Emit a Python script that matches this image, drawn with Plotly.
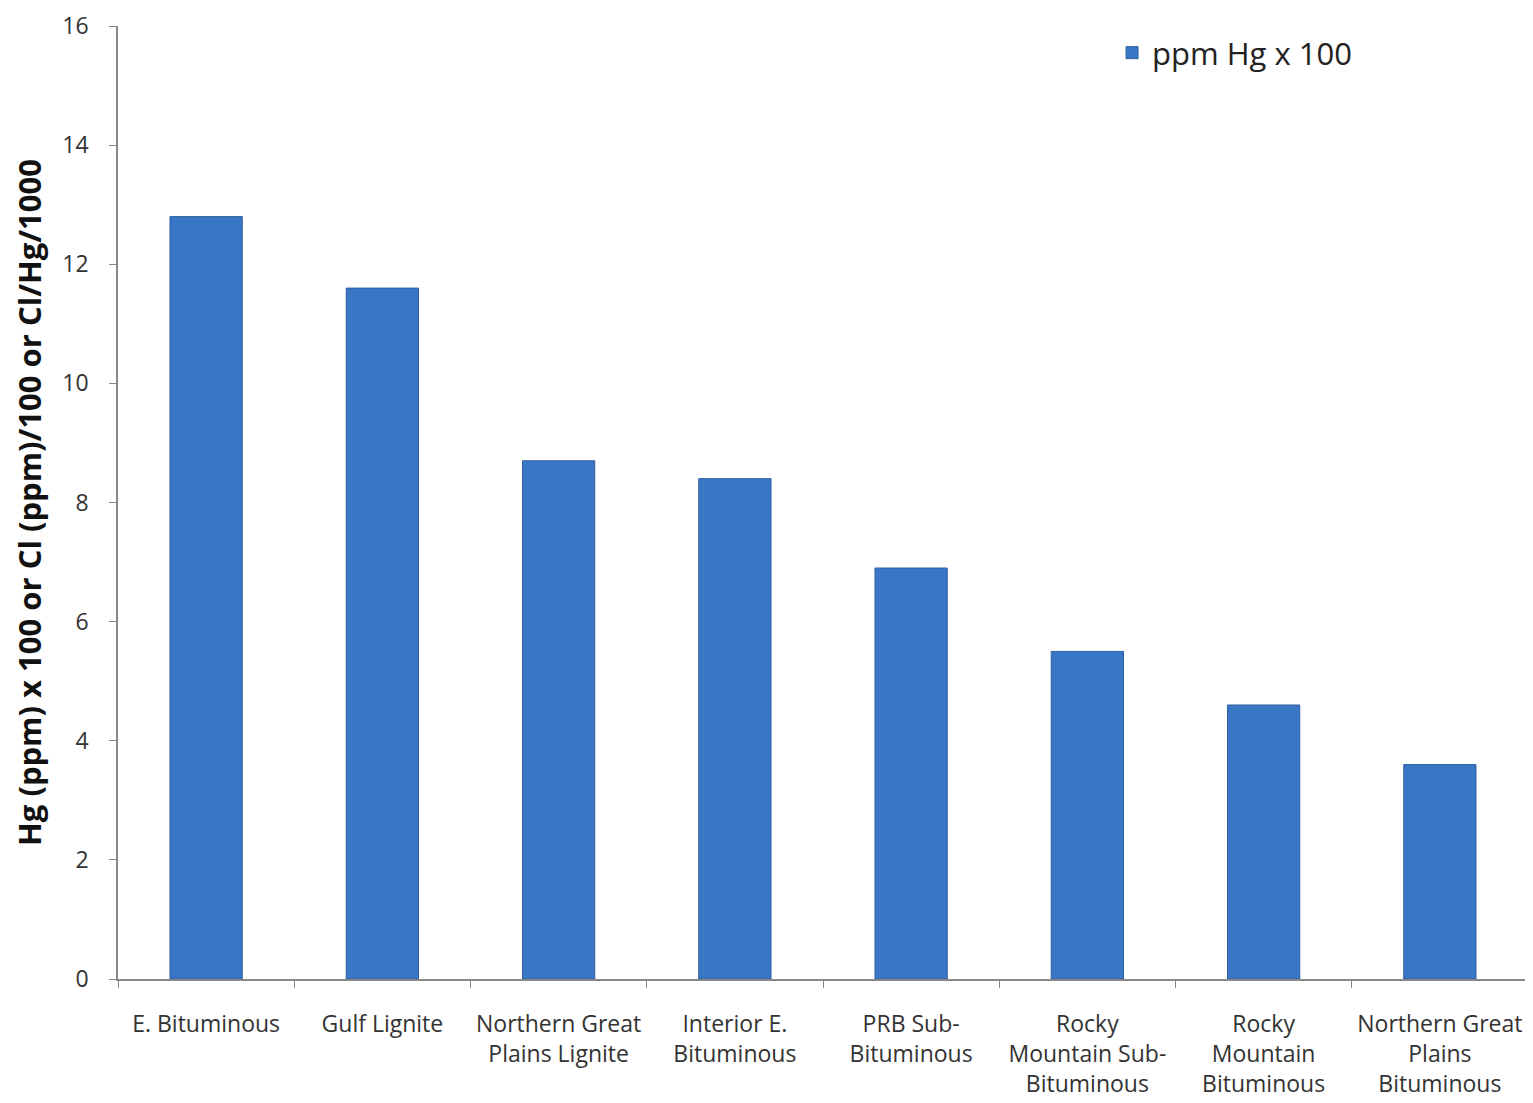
import plotly.graph_objects as go

categories = ["E. Bituminous", "Gulf Lignite", "Northern Great<br>Plains Lignite", "Interior E.<br>Bituminous",
              "PRB Sub-<br>Bituminous", "Rocky<br>Mountain Sub-<br>Bituminous", "Rocky<br>Mountain<br>Bituminous",
              "Northern Great<br>Plains<br>Bituminous"]
hg_ppm_x100 = [12.8, 11.6, 8.7, 8.4, 6.9, 5.5, 4.6, 3.6]
series_name = "ppm Hg x 100"
y_ticks = [0, 2, 4, 6, 8, 10, 12, 14, 16]

fig = go.Figure()
fig.add_trace(go.Bar(
    x=categories, y=hg_ppm_x100, name=series_name,
    marker=dict(color="#3a76c6", line=dict(color="#2f5f9f", width=1)),
    width=0.41,
))

font_family = "'Open Sans', sans-serif"
fig.update_layout(
    width=1533, height=1103,
    margin=dict(l=110, r=13, t=18, b=132),
    plot_bgcolor="white", paper_bgcolor="white",
    font=dict(family=font_family, color="#333333"),
    showlegend=True,
    legend=dict(x=0.705, y=1.0, xanchor="left", yanchor="top",
                font=dict(size=31, color="#222222"), bgcolor="rgba(0,0,0,0)",
                itemwidth=30),
)
fig.update_xaxes(
    showline=True, linecolor="#888888", linewidth=1.5,
    ticks="outside", tickson="boundaries", ticklen=7, tickcolor="#888888",
    tickfont=dict(size=23, color="#333333"), showgrid=False,
    automargin=False, ticklabelstandoff=24, ticklabeloverflow="allow",
)
fig.update_yaxes(
    range=[0, 16], tickvals=y_ticks,
    showline=True, linecolor="#888888", linewidth=1.5,
    ticks="outside", ticklen=7, tickcolor="#888888",
    tickfont=dict(size=23, color="#333333"), showgrid=False, zeroline=False,
    automargin=False, ticklabelstandoff=16, ticklabeloverflow="allow",
    title=dict(text="<b>Hg (ppm) x 100 or Cl (ppm)/100 or Cl/Hg/1000</b>",
               font=dict(size=31, color="#111111"), standoff=36),
)
fig.write_html("out.html")
